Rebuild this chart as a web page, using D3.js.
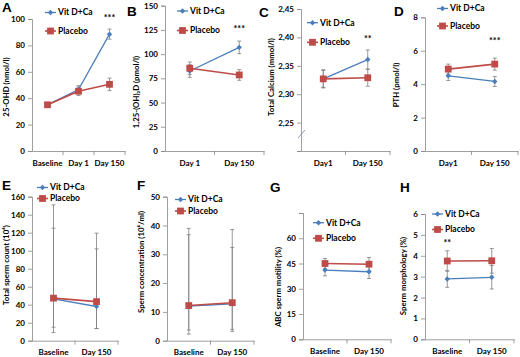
<!DOCTYPE html>
<html><head><meta charset="utf-8">
<script src="https://cdn.jsdelivr.net/npm/d3@7"></script>
<style>
body{margin:0;background:#fff}
text{font-family:Lato,"Liberation Sans",Arial,sans-serif;font-weight:bold;fill:#000}
</style>
</head><body>
<svg id="chart" width="520" height="357"></svg>
<script>
const seriesNames = ["Vit D+Ca", "Placebo"];

// A: 25-OHD
const catsA = ["Baseline", "Day 1", "Day 150"];
const vitA = [35, 46.5, 88.5];
const vitAErr = [1, 3, 3.8];
const plaA = [35, 45.3, 50.5];
const plaAErr = [1.2, 3.2, 4.7];
const ticksA = [0, 20, 40, 60, 80, 100];
const sigA = ["", "", "***"];

// B: 1,25-(OH)2D
const catsB = ["Day 1", "Day 150"];
const vitB = [82.6, 107];
const vitBErr = [6.5, 6.5];
const plaB = [85.4, 78.5];
const plaBErr = [6.5, 5.5];
const ticksB = [0, 25, 50, 75, 100, 125, 150];
const sigB = ["", "***"];

// C: Total calcium
const catsC = ["Day1", "Day 150"];
const vitC = [2.327, 2.361];
const vitCErr = [0.016, 0.017];
const plaC = [2.327, 2.329];
const plaCErr = [0.015, 0.015];
const ticksC = [2.25, 2.30, 2.35, 2.40, 2.45];
const sigC = ["", "**"];

// D: PTH
const catsD = ["Day1", "Day 150"];
const vitD = [4.5, 4.16];
const vitDErr = [0.28, 0.3];
const plaD = [4.9, 5.2];
const plaDErr = [0.3, 0.36];
const ticksD = [0, 2, 4, 6, 8];
const sigD = ["", "***"];

// E: Total sperm count
const catsE = ["Baseline", "Day 150"];
const vitE = [46.5, 38];
const vitELow = [15, 13.5];
const vitEHigh = [125, 102];
const plaE = [47.3, 43.4];
const plaELow = [9, 13.5];
const plaEHigh = [151, 119.5];
const ticksE = [0, 20, 40, 60, 80, 100, 120, 140, 160];

// F: Sperm concentration
const catsF = ["Baseline", "Day 150"];
const vitF = [12.0, 12.8];
const vitFLow = [3.7, 3.9];
const vitFHigh = [36.8, 32.4];
const plaF = [12.2, 13.2];
const plaFLow = [2.3, 3.2];
const plaFHigh = [39, 38.6];
const ticksF = [0, 10, 20, 30, 40, 50];

// G: ABC sperm motility
const catsG = ["Baseline", "Day 150"];
const vitG = [41.1, 40.1];
const vitGErr = [3.4, 4];
const plaG = [45, 44.6];
const plaGErr = [3, 4];
const ticksG = [0, 15, 30, 45, 60];

// H: Sperm morphology
const catsH = ["Baseline", "Day 150"];
const vitH = [2.89, 2.97];
const vitHErr = [0.4, 0.56];
const plaH = [3.75, 3.76];
const plaHErr = [0.49, 0.59];
const ticksH = [0, 1, 2, 3, 4, 5, 6];
const sigH = ["**", ""];

const sym = (v, e) => ({v, lo: v.map((d, i) => d - e[i]), hi: v.map((d, i) => d + e[i])});

const panels = [
  {letter: "A", lx: 2, ly: 12, cats: catsA, vit: sym(vitA, vitAErr), pla: sym(plaA, plaAErr),
   x0: 32, x1: 125, yb: 151, yt: 19, dom: [0, 100], ticks: ticksA, fmt: d => d,
   title: "25-OHD  (nmol/l)", tx: 6, ty: 87, leg: [45, 12.5, 31], sig: sigA, sigV: 102},
  {letter: "B", lx: 127, ly: 16, cats: catsB, vit: sym(vitB, vitBErr), pla: sym(plaB, plaBErr),
   x0: 165, x1: 264, yb: 151, yt: 5.7, dom: [0, 150], ticks: ticksB, fmt: d => d,
   title: "1,25-(OH)\u2082D  (pmol/l)", tx: 136, ty: 92, leg: [177, 11, 30.5], sig: sigB, sigV: 127},
  {letter: "C", lx: 259, ly: 17, cats: catsC, vit: sym(vitC, vitCErr), pla: sym(plaC, plaCErr),
   x0: 301, x1: 390, yb: 151, yt: 9, dom: [2.20, 2.45], ticks: ticksC, fmt: d => d3.format(".2f")(d).replace(".", ","),
   title: "Total Calcium (mmol/l)", tx: 271, ty: 77, leg: [307, 22.7, 42.3], sig: sigC, sigV: 2.399, brk: true},
  {letter: "D", lx: 394, ly: 16, cats: catsD, vit: sym(vitD, vitDErr), pla: sym(plaD, plaDErr),
   x0: 425, x1: 518, yb: 151, yt: 17.3, dom: [0, 8], ticks: ticksD, fmt: d => d,
   title: "PTH  (pmol/l)", tx: 396, ty: 85, leg: [437, 8.5, 26], sig: sigD, sigV: 6.69},
  {letter: "E", lx: 2, ly: 190, cats: catsE, vit: {v: vitE, lo: vitELow, hi: vitEHigh}, pla: {v: plaE, lo: plaELow, hi: plaEHigh},
   x0: 32, x1: 118, yb: 340.7, yt: 196.7, dom: [0, 160], ticks: ticksE, fmt: d => d,
   title: "Total sperm count (10\u2076)", tx: 6, ty: 265, leg: [37, 187.5, 198.5]},
  {letter: "F", lx: 137, ly: 190, cats: catsF, vit: {v: vitF, lo: vitFLow, hi: vitFHigh}, pla: {v: plaF, lo: plaFLow, hi: plaFHigh},
   x0: 167, x1: 254, yb: 340.7, yt: 196.7, dom: [0, 50], ticks: ticksF, fmt: d => d,
   title: "Sperm concentration (10\u2076/ml)", tx: 141, ty: 262, leg: [175, 199.5, 211]},
  {letter: "G", lx: 270, ly: 192, cats: catsG, vit: sym(vitG, vitGErr), pla: sym(plaG, plaGErr),
   x0: 303, x1: 391, yb: 339.3, yt: 213, dom: [0, 75], ticks: ticksG, fmt: d => d, topTick: 75,
   title: "ABC sperm motility (%)", tx: 278, ty: 287, leg: [313, 222.7, 238.3]},
  {letter: "H", lx: 400, ly: 192, cats: catsH, vit: sym(vitH, vitHErr), pla: sym(plaH, plaHErr),
   x0: 425, x1: 514, yb: 339.3, yt: 214, dom: [0, 6], ticks: ticksH, fmt: d => d,
   title: "Sperm morphology (%)", tx: 403, ty: 276, leg: [432, 214, 229.5], sig: sigH, sigV: 4.67}
];

const BLUE = "#4a7ebb", RED = "#be4b48", AX = "#868686", ERR = "#7f7f7f";
const svg = d3.select("#chart");

function diamond(g, x, y) {
  g.append("path").attr("d", `M${x},${y-2.7}L${x+2.7},${y}L${x},${y+2.7}L${x-2.7},${y}Z`).attr("fill", BLUE);
}
function square(g, x, y) {
  g.append("rect").attr("x", x - 3.4).attr("y", y - 3.4).attr("width", 6.8).attr("height", 6.8).attr("fill", RED);
}

panels.forEach(p => {
  const g = svg.append("g");
  const x = d3.scaleBand().domain(p.cats).range([p.x0, p.x1]);
  const y = d3.scaleLinear().domain(p.dom).range([p.yb, p.yt]);

  g.append("text").attr("x", p.lx).attr("y", p.ly).style("font-family", "Arial,'Liberation Sans',sans-serif")
    .style("font-size", "13.5px").text(p.letter);

  const yAxis = d3.axisLeft(y).tickValues(p.topTick ? p.ticks.concat([p.topTick]) : (p.brk ? [2.20].concat(p.ticks) : p.ticks))
    .tickSize(4).tickPadding(3).tickFormat(d => (p.ticks.includes(d) ? p.fmt(d) : ""));
  const ya = g.append("g").attr("transform", `translate(${p.x0},0)`).call(yAxis);
  ya.select(".domain").attr("stroke", AX).attr("stroke-width", 0.8);
  ya.selectAll(".tick line").attr("stroke", AX).attr("stroke-width", 0.8);
  ya.selectAll(".tick text").style("font-size", "8px").style("font-family", "Lato,'Liberation Sans',sans-serif").attr("fill", "#000");

  const xAxis = d3.axisBottom(x).tickSize(0).tickPadding(9);
  const xa = g.append("g").attr("transform", `translate(0,${p.yb})`).call(xAxis);
  xa.select(".domain").attr("stroke", AX).attr("stroke-width", 0.8);
  xa.selectAll(".tick text").style("font-size", "8px").style("font-family", "Lato,'Liberation Sans',sans-serif").attr("fill", "#000");
  const bounds = p.cats.map(c => x(c)).concat([p.x1]);
  bounds.slice(1).forEach(bx => {
    g.append("line").attr("x1", bx).attr("x2", bx).attr("y1", p.yb).attr("y2", p.yb + 4).attr("stroke", AX).attr("stroke-width", 0.8);
  });

  if (p.brk) {
    g.append("line").attr("x1", p.x0 - 3).attr("y1", p.yb - 13).attr("x2", p.x0 + 4).attr("y2", p.yb - 21)
      .attr("stroke", "#7f8fa8").attr("stroke-width", 0.9);
  }

  g.append("text").attr("transform", `translate(${p.tx},${p.ty}) rotate(-90)`).attr("text-anchor", "middle")
    .attr("dy", "0.35em").style("font-size", "7.8px").text(p.title);

  const cx = c => x(c) + x.bandwidth() / 2;

  [p.vit, p.pla].forEach(s => {
    p.cats.forEach((c, i) => {
      const xx = cx(c);
      const lo = Math.max(s.lo[i], p.dom[0]);
      g.append("line").attr("x1", xx).attr("x2", xx).attr("y1", y(lo)).attr("y2", y(s.hi[i])).attr("stroke", ERR).attr("stroke-width", 0.8);
      [s.lo[i], s.hi[i]].forEach(v => {
        if (v < p.dom[0]) return;
        g.append("line").attr("x1", xx - 2).attr("x2", xx + 2).attr("y1", y(v)).attr("y2", y(v)).attr("stroke", ERR).attr("stroke-width", 0.8);
      });
    });
  });

  const line = d3.line().x((d, i) => cx(p.cats[i])).y(d => y(d));
  g.append("path").datum(p.vit.v).attr("d", line).attr("fill", "none").attr("stroke", BLUE).attr("stroke-width", 1.3);
  g.append("path").datum(p.pla.v).attr("d", line).attr("fill", "none").attr("stroke", RED).attr("stroke-width", 1.6);
  p.vit.v.forEach((v, i) => diamond(g, cx(p.cats[i]), y(v)));
  p.pla.v.forEach((v, i) => square(g, cx(p.cats[i]), y(v)));

  if (p.sig) {
    p.sig.forEach((s, i) => {
      if (!s) return;
      g.append("text").attr("x", cx(p.cats[i])).attr("y", y(p.sigV)).attr("dy", "0.5em").attr("text-anchor", "middle")
        .style("font-size", "9px").text(s);
    });
  }

  const [lx, ly1, ly2] = p.leg;
  const lw = 11;
  g.append("line").attr("x1", lx).attr("x2", lx + lw).attr("y1", ly1).attr("y2", ly1).attr("stroke", BLUE).attr("stroke-width", 1.3);
  diamond(g, lx + lw / 2, ly1);
  g.append("text").attr("x", lx + lw + 2).attr("y", ly1).attr("dy", "0.35em").style("font-size", "8.5px").text(seriesNames[0]);
  g.append("line").attr("x1", lx).attr("x2", lx + lw).attr("y1", ly2).attr("y2", ly2).attr("stroke", RED).attr("stroke-width", 1.6);
  square(g, lx + lw / 2, ly2);
  g.append("text").attr("x", lx + lw + 2).attr("y", ly2).attr("dy", "0.35em").style("font-size", "8.5px").text(seriesNames[1]);
});
</script>
</body></html>
